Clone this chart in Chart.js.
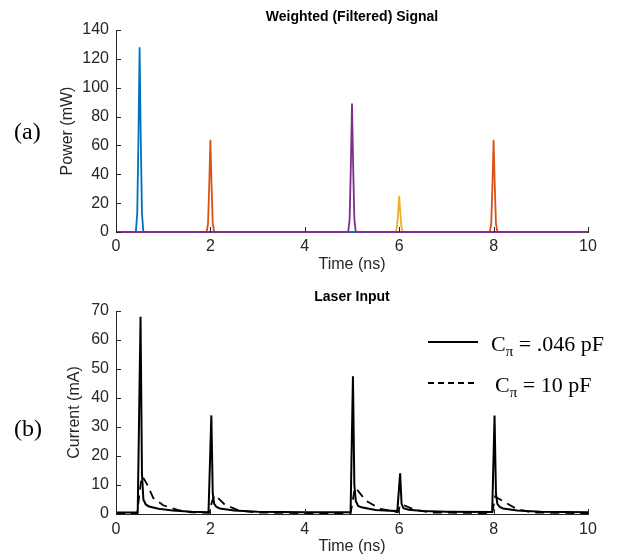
<!DOCTYPE html>
<html><head><meta charset="utf-8">
<script src="https://cdn.jsdelivr.net/npm/chart.js@4/dist/chart.umd.min.js"></script>
<style>
body{margin:0;background:#fff;width:626px;height:559px;overflow:hidden;position:relative;}
.c{position:absolute;left:0;width:626px;}
#w1{top:0;height:280px}
#w2{top:280px;height:279px}
.lab{position:absolute;font-family:"Liberation Serif","Times New Roman",serif;font-size:24px;color:#000;left:14px;line-height:1}
</style></head>
<body>
<div class="c" id="w1"><canvas id="c1"></canvas></div>
<div class="c" id="w2"><canvas id="c2"></canvas></div>
<div class="lab" style="top:119px">(a)</div>
<div class="lab" style="top:416px">(b)</div>
<script>
// ---- shared axis ----
const timeTicks = [0, 2, 4, 6, 8, 10];
const powerTicks = [0, 20, 40, 60, 80, 100, 120, 140];
const currentTicks = [0, 10, 20, 30, 40, 50, 60, 70];

// ---- (a) Weighted (Filtered) Signal : time (ns) / power (mW) ----
const blueT   = [0, 0.42, 0.45, 0.475, 0.5, 0.525, 0.55, 0.58, 10];
const blueP   = [0, 0, 13, 64, 128, 64, 13, 0, 0];
const orangeT = [0, 1.92, 1.95, 1.975, 2, 2.025, 2.05, 2.08, 7.92, 7.95, 7.975, 8, 8.025, 8.05, 8.08, 10];
const orangeP = [0, 0, 6, 32, 64, 32, 6, 0, 0, 6, 32, 64, 32, 6, 0, 0];
const yellowT = [0, 5.92, 5.95, 5.975, 6, 6.025, 6.05, 6.08, 10];
const yellowP = [0, 0, 2.5, 12.5, 25, 12.5, 2.5, 0, 0];
const purpleT = [0, 4.92, 4.95, 4.975, 5, 5.025, 5.05, 5.08, 10];
const purpleP = [0, 0, 9, 45, 89, 45, 9, 0, 0];

// ---- (b) Laser Input : time (ns) / current (mA) ----
const solidT = [0, 0.46, 0.52, 0.55, 0.58, 0.63, 0.7, 0.9, 1.2, 1.6, 1.96,
  1.97, 2.02, 2.05, 2.08, 2.13, 2.2, 2.5, 3.0, 4.0, 4.96,
  4.97, 5.02, 5.05, 5.08, 5.13, 5.2, 5.5, 5.96,
  5.97, 6.02, 6.05, 6.09, 6.2, 6.5, 7.0, 7.96,
  7.97, 8.02, 8.05, 8.08, 8.13, 8.2, 8.5, 9.0, 10];
const solidI = [0.5, 0.5, 68, 14, 5, 3.3, 2.6, 1.8, 1.2, 0.8, 0.6,
  0.6, 34, 7, 3.5, 2.4, 1.9, 1.2, 0.8, 0.6, 0.6,
  0.7, 47.5, 10, 4.5, 2.8, 2.3, 1.4, 1,
  1, 14, 3.5, 2, 1.5, 1, 0.8, 0.7,
  0.7, 34, 7, 3.5, 2.4, 1.9, 1.2, 0.8, 0.6];
const dashT = [0, 0.45, 0.5, 0.53, 0.56, 0.65, 0.79, 1.0, 1.3, 1.6, 1.97,
  2.02, 2.06, 2.1, 2.3, 2.6, 3.0, 4.0, 4.97,
  5.01, 5.06, 5.1, 5.3, 5.6, 5.97,
  6.01, 6.05, 6.33, 6.7, 7.97,
  8.0, 8.03, 8.22, 8.49, 8.83, 10];
const dashI = [0.3, 0.3, 7.5, 11, 13, 10.5, 5.5, 3, 1.4, 0.6, 0.4,
  3.5, 5.5, 6.5, 3.3, 1.2, 0.5, 0.3, 0.3,
  4, 9, 8.5, 4.5, 1.8, 0.6,
  2.5, 3.4, 1.4, 0.5, 0.3,
  3, 6, 4.3, 1.7, 0.5, 0.3];

const AX = '#262626';
const FONT = '"Liberation Sans", Arial, Helvetica, sans-serif';
const pts = (t, v) => t.map((x, i) => ({x: x, y: v[i]}));

const inwardTicks = {
  id: 'inwardTicks',
  afterDatasetsDraw(chart) {
    const ctx = chart.ctx, xs = chart.scales.x, ys = chart.scales.y, a = chart.chartArea;
    ctx.save();
    ctx.strokeStyle = AX; ctx.lineWidth = 1;
    ctx.beginPath();
    xs.ticks.forEach(t => { const px = Math.round(xs.getPixelForValue(t.value)) + 0.5; ctx.moveTo(px, a.bottom); ctx.lineTo(px, a.bottom - 5); });
    ys.ticks.forEach(t => { const py = Math.round(ys.getPixelForValue(t.value)) + 0.5; ctx.moveTo(a.left, py); ctx.lineTo(a.left + 5, py); });
    ctx.stroke();
    ctx.restore();
  }
};

// title centred over the plot area (as in the reference)
const plotTitle = {
  id: 'plotTitle',
  afterDraw(chart, args, opts) {
    const ctx = chart.ctx, a = chart.chartArea;
    ctx.save();
    ctx.fillStyle = '#000';
    ctx.font = 'bold 14px ' + FONT;
    ctx.textAlign = 'center'; ctx.textBaseline = 'middle';
    ctx.fillText(opts.text, (a.left + a.right) / 2, opts.y);
    ctx.restore();
  }
};

function makeOptions(cfg) {
  return {
    responsive: true, maintainAspectRatio: false, animation: false, devicePixelRatio: 1,
    layout: {padding: {left: cfg.padLeft, right: 38, top: cfg.padTop, bottom: 0}},
    plugins: {
      legend: {display: false}, tooltip: {enabled: false}, title: {display: false},
      plotTitle: {text: cfg.title, y: cfg.titleY}
    },
    scales: {
      x: {
        type: 'linear', min: 0, max: 10,
        afterBuildTicks: s => { s.ticks = timeTicks.map(v => ({value: v})); },
        afterFit: s => { s.height = cfg.xHeight; },
        grid: {display: false, drawTicks: false},
        border: {display: true, color: AX, width: 1},
        ticks: {color: AX, font: {family: FONT, size: 16}, padding: cfg.xTickPad, maxRotation: 0},
        title: {display: true, text: 'Time (ns)', color: AX, font: {family: FONT, size: 16}, padding: {top: 0, bottom: cfg.xTitlePad}}
      },
      y: {
        type: 'linear', min: 0, max: cfg.yMax,
        afterBuildTicks: s => { s.ticks = cfg.yTicks.map(v => ({value: v})); },
        afterFit: s => { s.width = cfg.yWidth; },
        grid: {display: false, drawTicks: false},
        border: {display: true, color: AX, width: 1},
        ticks: {color: AX, font: {family: FONT, size: 16}, padding: 7},
        title: {display: true, text: cfg.yTitle, color: AX, font: {family: FONT, size: 16}, padding: {top: 4, bottom: 4}}
      }
    }
  };
}

const lineDs = (label, data, color, width, dash) => ({
  label, data, borderColor: color, borderWidth: width, borderDash: dash || [],
  pointRadius: 0, tension: 0, fill: false, clip: 4
});

new Chart(document.getElementById('c1'), {
  type: 'line',
  data: {datasets: [
    lineDs('purple', pts(purpleT, purpleP), '#7E2F8E', 1.8),
    lineDs('blue', pts(blueT, blueP), '#0072BD', 1.8),
    lineDs('orange', pts(orangeT, orangeP), '#D95319', 1.8),
    lineDs('yellow', pts(yellowT, yellowP), '#EDB120', 1.8)
  ]},
  options: makeOptions({padLeft: 54, yWidth: 62, padTop: 30, title: 'Weighted (Filtered) Signal', titleY: 17,
    xHeight: 48, xTickPad: 5, xTitlePad: 6, yMax: 140, yTicks: powerTicks, yTitle: 'Power (mW)'}),
  plugins: [inwardTicks, plotTitle]
});

const legendC = {
  id: 'legendC',
  afterDraw(chart) {
    const ctx = chart.ctx;
    const rows = [
      {y: 62, dash: [], tx: 491, rest: ' = .046 pF'},
      {y: 103, dash: [6, 4], tx: 495, rest: ' = 10 pF'}
    ];
    ctx.save();
    rows.forEach(r => {
      ctx.strokeStyle = '#000'; ctx.lineWidth = 2.2; ctx.setLineDash(r.dash);
      ctx.beginPath(); ctx.moveTo(428, r.y); ctx.lineTo(478, r.y); ctx.stroke();
      ctx.setLineDash([]);
      ctx.fillStyle = '#000'; ctx.textBaseline = 'alphabetic'; ctx.textAlign = 'left';
      const base = r.y + 9;
      ctx.font = '22px "Liberation Serif", "Times New Roman", serif';
      ctx.fillText('C', r.tx, base);
      let x = r.tx + ctx.measureText('C').width;
      ctx.font = '15px "Liberation Serif", "Times New Roman", serif';
      ctx.fillText('π', x, base + 5);
      x += ctx.measureText('π').width;
      ctx.font = '22px "Liberation Serif", "Times New Roman", serif';
      ctx.fillText(r.rest, x, base);
    });
    ctx.restore();
  }
};

new Chart(document.getElementById('c2'), {
  type: 'line',
  data: {datasets: [
    lineDs('C_pi = .046 pF', pts(solidT, solidI), '#000', 2),
    lineDs('C_pi = 10 pF', pts(dashT, dashI), '#000', 1.8, [9, 6])
  ]},
  options: makeOptions({padLeft: 61, yWidth: 55, padTop: 31, title: 'Laser Input', titleY: 17,
    xHeight: 45, xTickPad: 6, xTitlePad: 3, yMax: 70, yTicks: currentTicks, yTitle: 'Current (mA)'}),
  plugins: [inwardTicks, legendC, plotTitle]
});
</script>
</body></html>
